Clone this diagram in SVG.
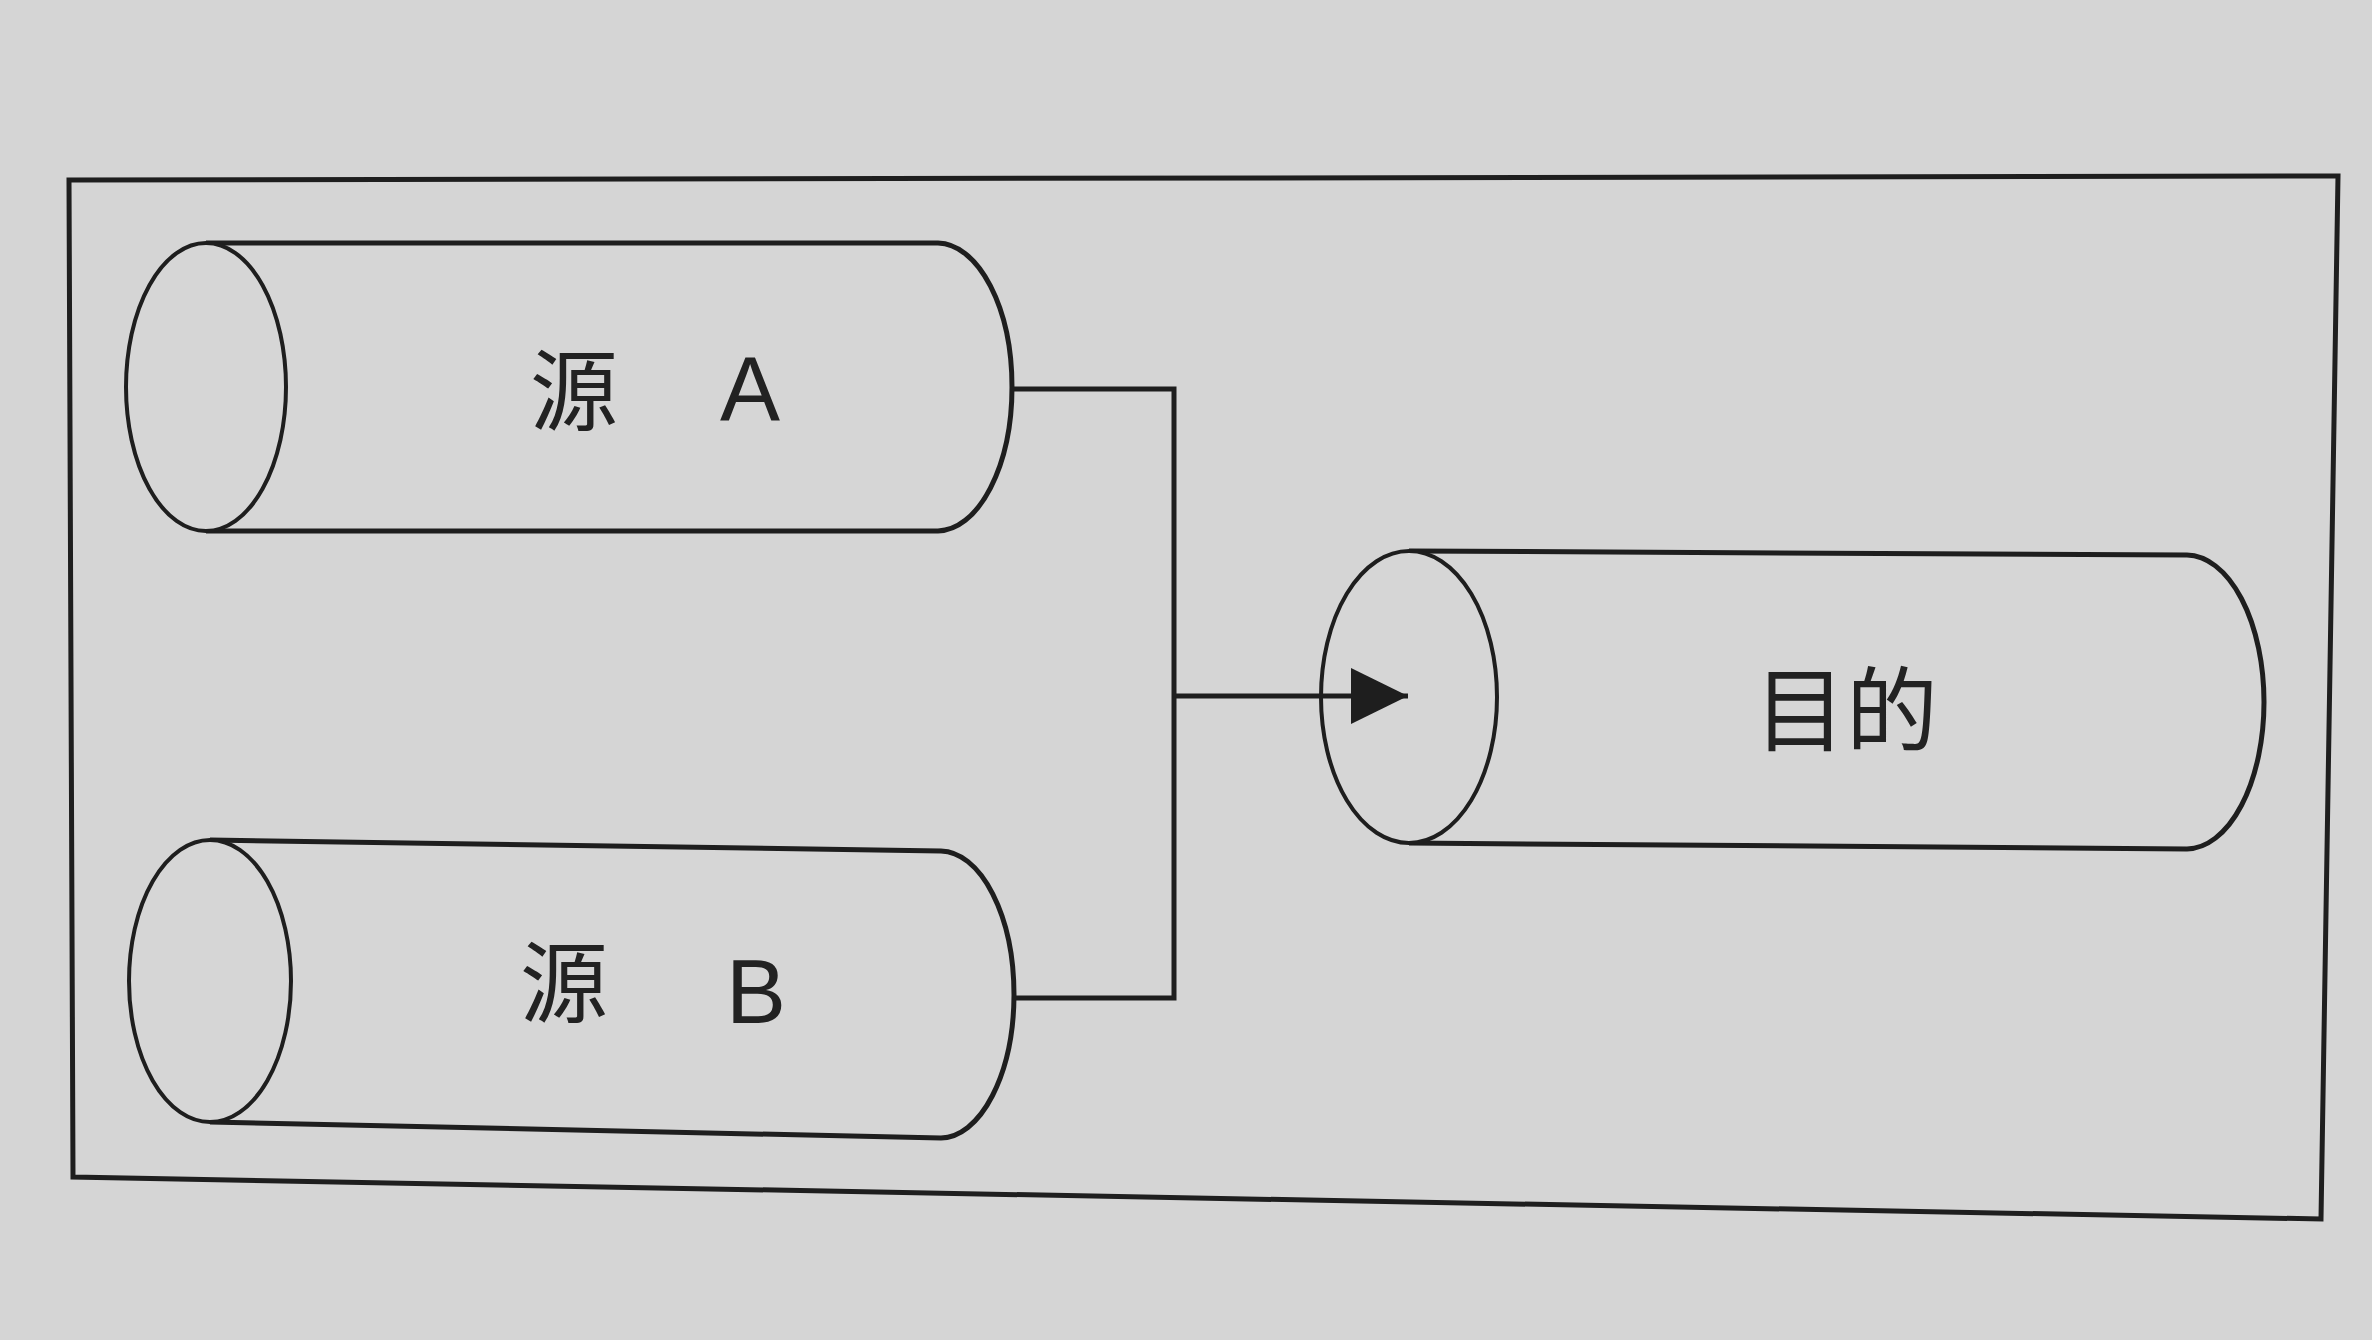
<svg xmlns="http://www.w3.org/2000/svg" width="2372" height="1340" viewBox="0 0 2372 1340">
  <defs>
    <style>
      .ln { fill: none; stroke: #1e1e1e; stroke-width: 5; stroke-linejoin: miter; }
      .cyl { fill: #d6d6d6; stroke: #1e1e1e; stroke-width: 5; }
      .cap { fill: #d6d6d6; stroke: #1e1e1e; stroke-width: 4; }
      .cjk { font-family: "Noto Sans CJK SC", "Noto Sans CJK JP", sans-serif; fill: #222; }
      .lat { font-family: "Liberation Sans", Arial, sans-serif; fill: #222; }
    </style>
    <marker id="arrow" markerWidth="60" markerHeight="60" refX="57" refY="28" orient="auto" markerUnits="userSpaceOnUse">
      <path d="M0,0 L57,28 L0,56 Z" fill="#1e1e1e"/>
    </marker>
  </defs>
  <rect x="0" y="0" width="2372" height="1340" fill="#d5d5d5"/>
  <g id="frame">
    <path class="ln" d="M69,180 L2338,176 L2321,1219 L73,1177 Z"/>
  </g>
  <g id="source-a">
    <path class="cyl" d="M206,243 L938,243 A75,144 0 0 1 1012,387 A75,144 0 0 1 938,531 L206,531"/>
    <ellipse class="cap" cx="206" cy="387" rx="80" ry="144"/>
    <text class="cjk" x="574" y="423" font-size="88" text-anchor="middle">源<tspan class="lat" x="750" y="420" font-size="90">A</tspan></text>
  </g>
  <g id="source-b">
    <path class="cyl" d="M210,840 L941,851 A74,144 0 0 1 1014,995 A74,144 0 0 1 941,1138 L210,1122"/>
    <ellipse class="cap" cx="210" cy="981" rx="81" ry="141"/>
    <text class="cjk" x="564" y="1015" font-size="88" text-anchor="middle">源<tspan class="lat" x="756" y="1023" font-size="90">B</tspan></text>
  </g>
  <g id="destination">
    <path class="cyl" d="M1409,551 L2187,555 A78,147 0 0 1 2264,702 A78,147 0 0 1 2187,849 L1409,843"/>
    <ellipse class="cap" cx="1409" cy="697" rx="88" ry="146"/>
    <text class="cjk" x="1846" y="744" font-size="92" text-anchor="middle">目的</text>
  </g>
  <g id="connectors">
    <path class="ln" d="M1012,389 L1174,389 L1174,998 L1014,998"/>
    <path class="ln" d="M1174,696 L1408,696" marker-end="url(#arrow)"/>
  </g>
</svg>
